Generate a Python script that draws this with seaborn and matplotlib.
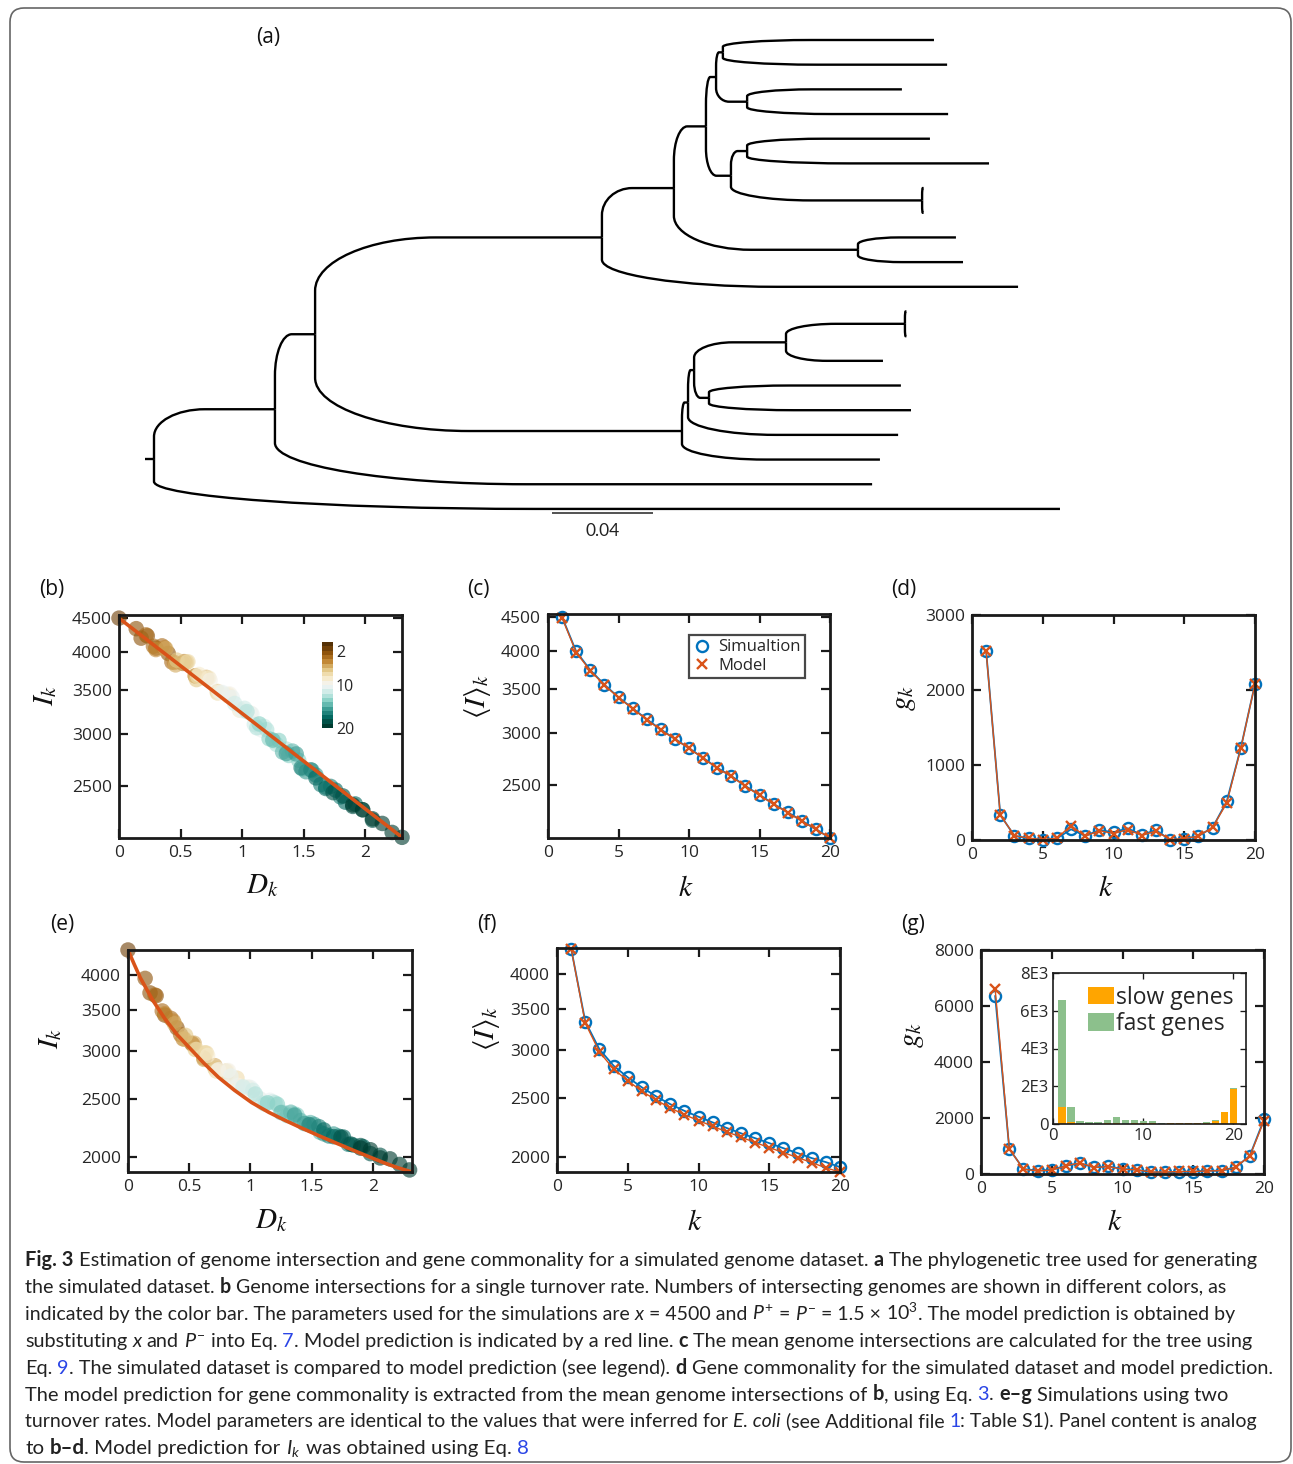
import numpy as np
import pandas as pd
import matplotlib
matplotlib.use("Agg")
import matplotlib.pyplot as plt
import seaborn as sns
from matplotlib.path import Path
from matplotlib.patches import PathPatch, FancyBboxPatch
from matplotlib.lines import Line2D
from matplotlib.colors import Normalize
from matplotlib.cm import ScalarMappable
from matplotlib.transforms import IdentityTransform
import matplotlib.ticker as mticker

# ---------------------------------------------------------------- data
# (a) phylogenetic tree: node, parent, depth from root (substitutions/site)
tree_nodes = ["root", "A", "B", "C", "E", "F", "H", "J", "t1", "t2", "K", "t3", "t4",
              "I", "L", "t5", "t6", "M", "t7", "t8", "G", "t9", "t10", "t11",
              "D", "N", "O", "P", "R", "t12", "t13", "t14", "Q", "t15", "t16",
              "t17", "t18", "t19", "t20"]
tree_parent = [None, "root", "A", "B", "C", "E", "F", "H", "J", "J", "H", "K", "K",
               "F", "I", "L", "L", "I", "M", "M", "E", "G", "G", "C",
               "B", "D", "N", "O", "P", "R", "R", "P", "O", "Q", "Q",
               "N", "D", "A", "root"]
tree_depth = [0.0, 0.0479, 0.0638, 0.1774, 0.2059, 0.2186, 0.2226, 0.2253, 0.3089, 0.3141,
              0.2349, 0.2962, 0.3145, 0.2285, 0.2349, 0.3073, 0.3307, 0.3042, 0.3048, 0.3048,
              0.2788, 0.3176, 0.3204, 0.3422, 0.2091, 0.2115, 0.2139, 0.2503, 0.2974, 0.2980,
              0.2980, 0.2887, 0.2198, 0.2958, 0.2998, 0.2947, 0.2875, 0.2844, 0.3588]
scale_bar_len = 0.04

# (b),(e) genome intersections: number of genomes k, distance D_k, I_k
sc_k = [1] + [2]*5 + [3]*5 + [4]*5 + [5]*5 + [6]*5 + [7]*5 + [8]*5 + [9]*5 + [10]*5 + \
       [11]*5 + [12]*5 + [13]*5 + [14]*5 + [15]*5 + [16]*5 + [17]*5 + [18]*5 + [19]*5 + [20]
sc_D = [0.00,
        0.14, 0.18, 0.23, 0.30, 0.40,
        0.22, 0.28, 0.35, 0.43, 0.52,
        0.30, 0.37, 0.45, 0.53, 0.62,
        0.38, 0.46, 0.54, 0.62, 0.71,
        0.47, 0.55, 0.63, 0.71, 0.80,
        0.56, 0.64, 0.72, 0.80, 0.89,
        0.65, 0.73, 0.81, 0.89, 0.98,
        0.74, 0.82, 0.90, 0.98, 1.07,
        0.84, 0.92, 1.00, 1.08, 1.16,
        0.94, 1.02, 1.10, 1.18, 1.26,
        1.04, 1.12, 1.20, 1.28, 1.36,
        1.14, 1.22, 1.30, 1.38, 1.46,
        1.25, 1.33, 1.41, 1.49, 1.57,
        1.36, 1.44, 1.52, 1.60, 1.68,
        1.48, 1.56, 1.64, 1.72, 1.80,
        1.60, 1.68, 1.76, 1.84, 1.92,
        1.74, 1.82, 1.90, 1.98, 2.06,
        1.90, 1.98, 2.06, 2.14, 2.22,
        2.30]
b_I = [4500,
       4337, 4195, 4229, 4051, 3976,
       4244, 4078, 4083, 3858, 3839,
       4030, 4056, 3852, 3863, 3675,
       4042, 3819, 3850, 3675, 3655,
       3883, 3856, 3627, 3638, 3478,
       3862, 3669, 3643, 3461, 3425,
       3693, 3648, 3466, 3441, 3258,
       3618, 3471, 3448, 3274, 3225,
       3466, 3407, 3253, 3214, 3038,
       3335, 3279, 3099, 3077, 2922,
       3242, 3063, 3043, 2889, 2841,
       3104, 2947, 2929, 2779, 2733,
       2933, 2812, 2822, 2652, 2635,
       2798, 2794, 2625, 2595, 2488,
       2661, 2643, 2509, 2493, 2403,
       2569, 2475, 2461, 2359, 2344,
       2439, 2411, 2324, 2297, 2214,
       2336, 2297, 2225, 2189, 2121,
       2085]
e_I = [4400,
       3949, 3737, 3697, 3435, 3271,
       3707, 3489, 3392, 3188, 3084,
       3452, 3357, 3138, 3070, 2916,
       3322, 3135, 3086, 2902, 2833,
       3180, 3013, 2973, 2805, 2773,
       3013, 2973, 2777, 2734, 2701,
       2945, 2777, 2777, 2636, 2601,
       2790, 2781, 2627, 2613, 2501,
       2723, 2608, 2607, 2495, 2483,
       2614, 2579, 2458, 2470, 2376,
       2543, 2447, 2459, 2365, 2359,
       2459, 2446, 2343, 2348, 2273,
       2370, 2373, 2299, 2281, 2198,
       2347, 2273, 2266, 2185, 2184,
       2263, 2246, 2168, 2166, 2100,
       2218, 2162, 2159, 2094, 2082,
       2158, 2102, 2090, 2027, 2014,
       2070, 2057, 1994, 1987, 1945,
       1905]
b_model_D = [0.0, 0.5, 1.0, 1.5, 2.0, 2.3]
b_model_I = [4500, 3807, 3221, 2725, 2305, 2085]
e_model_D = [0.0, 0.05, 0.10, 0.20, 0.30, 0.40, 0.50, 0.62, 0.74, 0.87, 1.01, 1.15, 1.28,
             1.40, 1.55, 1.70, 1.82, 1.95, 2.09, 2.20, 2.32]
e_model_I = [4400, 4170, 3960, 3640, 3390, 3190, 3036, 2860, 2709, 2580, 2462, 2372, 2302,
             2243, 2174, 2110, 2061, 2010, 1958, 1922, 1890]

# (c),(d),(f),(g) per k
k_vals = list(range(1, 21))
c_sim = [4500, 3990, 3738, 3552, 3398, 3270, 3147, 3036, 2938, 2843, 2748, 2654, 2579, 2490,
         2414, 2338, 2271, 2205, 2141, 2075]
c_model = [4490, 3975, 3730, 3545, 3395, 3265, 3142, 3030, 2935, 2840, 2745, 2650, 2575, 2487,
           2410, 2335, 2268, 2202, 2138, 2075]
d_sim = [2520, 336, 54, 21, 0, 21, 143, 54, 134, 102, 156, 67, 134, 0, 13, 54, 165, 514, 1230, 2082]
d_model = [2515, 330, 60, 25, 5, 25, 192, 50, 125, 85, 140, 60, 120, 5, 20, 50, 170, 490, 1225, 2080]
f_sim = [4400, 3338, 3006, 2825, 2704, 2603, 2516, 2443, 2382, 2329, 2280, 2232, 2188, 2148,
         2108, 2068, 2030, 1992, 1962, 1925]
f_model = [4400, 3318, 2976, 2790, 2670, 2565, 2482, 2408, 2348, 2296, 2247, 2200, 2157, 2113,
           2073, 2034, 1996, 1959, 1920, 1890]
g_sim = [6363, 896, 179, 118, 150, 297, 380, 237, 272, 179, 154, 57, 57, 82, 82, 118, 118, 237, 656, 1950]
g_model = [6603, 900, 170, 110, 140, 290, 400, 230, 265, 170, 150, 70, 70, 90, 90, 110, 120, 250, 640, 1900]
slow_genes = [920, 85, 20, 15, 15, 30, 30, 25, 30, 30, 40, 25, 40, 30, 40, 50, 70, 140, 617, 1862]
fast_genes = [5640, 800, 120, 70, 70, 183, 358, 188, 183, 147, 100, 46, 31, 41, 31, 21, 36, 60, 40, 30]

caption_lines = [
    [("Fig. 3", "b"), (" Estimation of genome intersection and gene commonality for a simulated genome dataset. ", "n"),
     ("a", "b"), (" The phylogenetic tree used for generating", "n")],
    [("the simulated dataset. ", "n"), ("b", "b"),
     (" Genome intersections for a single turnover rate. Numbers of intersecting genomes are shown in different colors, as", "n")],
    [("indicated by the color bar. The parameters used for the simulations are ", "n"), ("x", "i"),
     (" = 4500 and ", "n"), ("$P^{+}$", "m"), (" = ", "n"), ("$P^{-}$", "m"), (" = 1.5 × ", "n"),
     (r"$\mathrm{10}^{3}$", "m"), (". The model prediction is obtained by", "n")],
    [("substituting ", "n"), ("x", "i"), (" and ", "n"), ("$P^{-}$", "m"), (" into Eq. ", "n"), ("7", "l"),
     (". Model prediction is indicated by a red line. ", "n"), ("c", "b"),
     (" The mean genome intersections are calculated for the tree using", "n")],
    [("Eq. ", "n"), ("9", "l"), (". The simulated dataset is compared to model prediction (see legend). ", "n"),
     ("d", "b"), (" Gene commonality for the simulated dataset and model prediction.", "n")],
    [("The model prediction for gene commonality is extracted from the mean genome intersections of ", "n"),
     ("b", "b"), (", using Eq. ", "n"), ("3", "l"), (". ", "n"), ("e–g", "b"), (" Simulations using two", "n")],
    [("turnover rates. Model parameters are identical to the values that were inferred for ", "n"),
     ("E. coli", "i"), (" (see Additional file ", "n"), ("1", "l"), (": Table S1). Panel content is analog", "n")],
    [("to ", "n"), ("b–d", "b"), (". Model prediction for ", "n"), ("$I_k$", "m"),
     (" was obtained using Eq. ", "n"), ("8", "l")],
]
caption_line_ends = [1258, 1226, 1236, 1250, 1275, 1225, 1260, 562]

# ---------------------------------------------------------------- style
sns.set_style("ticks")
plt.rcParams["font.family"] = ["Open Sans", "DejaVu Sans"]
plt.rcParams["mathtext.fontset"] = "custom"
plt.rcParams["mathtext.rm"] = "Lato"
plt.rcParams["mathtext.it"] = "Lato:italic"
plt.rcParams["mathtext.bf"] = "Lato:bold"

BLUE = "#0072BD"
RED = "#D95319"
LINK = "#2a45e6"
CAP_FONT = ["Lato", "DejaVu Sans"]
W, H = 1293, 1464

fig = plt.figure(figsize=(W / 100, H / 100), dpi=100)
fig.patch.set_facecolor("white")


def add_ax(x0, y0, x1, y1):
    return fig.add_axes([x0 / W, 1 - y1 / H, (x1 - x0) / W, (y1 - y0) / H])


def ftext(x, y, s, **kw):
    return fig.text(x / W, 1 - y / H, s, **kw)


def style_ax(ax, lw=2.0, tl=6.5, ls=12.5):
    for sp in ax.spines.values():
        sp.set_visible(True)
        sp.set_linewidth(lw)
        sp.set_color("#1a1a1a")
    ax.tick_params(which="major", direction="in", top=True, right=True, length=tl,
                   width=lw * 0.8, labelsize=ls, labelcolor="#262626", color="#1a1a1a", pad=5)
    ax.tick_params(which="minor", length=0)
    ax.set_xlabel("")
    ax.set_ylabel("")


def log_yticks(ax, ticks):
    ax.set_yscale("log")
    ax.yaxis.set_major_locator(mticker.FixedLocator(ticks))
    ax.yaxis.set_major_formatter(mticker.FixedFormatter([str(t) for t in ticks]))
    ax.yaxis.set_minor_locator(mticker.NullLocator())


def k_xticks(ax):
    ax.set_xlim(0, 20)
    ax.set_xticks([0, 5, 10, 15, 20])
    ax.set_xticklabels(["0", "5", "10", "15", "20"])


# ---------------------------------------------------------------- border
fig.patches.append(FancyBboxPatch((10, 2), 1281, 1454, boxstyle="round,pad=0,rounding_size=14",
                                  transform=IdentityTransform(), fill=False, ec="#666666", lw=1.2))

# ---------------------------------------------------------------- (a) tree
children = {n: [] for n in tree_nodes}
for n, p in zip(tree_nodes, tree_parent):
    if p is not None:
        children[p].append(n)
depth = dict(zip(tree_nodes, tree_depth))
parent = dict(zip(tree_nodes, tree_parent))
ypos = {}
counter = [0]


def layout(n):
    if not children[n]:
        ypos[n] = counter[0]
        counter[0] += 1
    else:
        for c in children[n]:
            layout(c)
        ypos[n] = float(np.mean([ypos[c] for c in children[n]]))


layout("root")

px_per_unit = 2525.0
root_px = 154.0
leaf_px0, leaf_dpx = 40.0, 24.68
axT = add_ax(130, 25, 1080, 545)
axT.set_xlim((130 - root_px) / px_per_unit, (1080 - root_px) / px_per_unit)
axT.set_ylim((545 - leaf_px0) / leaf_dpx, (25 - leaf_px0) / leaf_dpx)
axT.axis("off")

KAPPA = 0.5523
for n in tree_nodes:
    p = parent[n]
    if p is None:
        continue
    px_, py_ = depth[p], ypos[p]
    cx_, cy_ = depth[n], ypos[n]
    dx, dy = cx_ - px_, cy_ - py_
    s = np.sign(dy)
    rx, ry = 0.42 * dx, 0.55 * abs(dy)
    verts = [(px_, py_), (px_, cy_ - s * ry), (px_, cy_ - s * ry * (1 - KAPPA)),
             (px_ + rx * (1 - KAPPA), cy_), (px_ + rx, cy_), (cx_, cy_)]
    codes = [Path.MOVETO, Path.LINETO, Path.CURVE4, Path.CURVE4, Path.CURVE4, Path.LINETO]
    axT.add_patch(PathPatch(Path(verts, codes), fill=False, ec="black", lw=1.7, capstyle="butt"))
axT.plot([-0.0036, 0.0], [ypos["root"], ypos["root"]], color="black", lw=1.7, solid_capstyle="butt")
sb_x0, sb_y = 0.1576, 19.17
axT.plot([sb_x0, sb_x0 + scale_bar_len], [sb_y, sb_y], color="#444444", lw=1.3, solid_capstyle="butt")
axT.text(sb_x0 + scale_bar_len / 2, 19.9, f"{scale_bar_len:g}", ha="center", va="center",
         fontsize=12.5, family=CAP_FONT, color="#222222")
ftext(268, 37, "(a)", ha="center", va="center", fontsize=15, color="#111111")

# ---------------------------------------------------------------- colormap
cmap = plt.get_cmap("BrBG", 20)
norm = Normalize(vmin=0, vmax=20)
sc_df_b = pd.DataFrame({"k": sc_k, "D": sc_D, "I": b_I})
sc_df_e = pd.DataFrame({"k": sc_k, "D": sc_D, "I": e_I})
SC_S, SC_A = 125, 0.62

# ---------------------------------------------------------------- (b)
axb = add_ax(119, 615, 402, 838)
sns.scatterplot(data=sc_df_b, x="D", y="I", hue="k", palette=cmap, hue_norm=norm, s=SC_S,
                alpha=SC_A, linewidth=0, legend=False, ax=axb, clip_on=False)
sns.lineplot(x=b_model_D, y=b_model_I, color=RED, lw=2.6, ax=axb, sort=False, errorbar=None)
log_yticks(axb, [2500, 3000, 3500, 4000, 4500])
axb.set_ylim(2080, 4550)
axb.set_xlim(0, 2.3)
axb.set_xticks([0, 0.5, 1, 1.5, 2])
axb.set_xticklabels(["0", "0.5", "1", "1.5", "2"])
style_ax(axb)

cax = add_ax(322, 642, 333, 728)
cb = fig.colorbar(ScalarMappable(norm=norm, cmap=cmap), cax=cax)
cax.invert_yaxis()
cb.set_ticks([2, 10, 20])
cb.set_ticklabels(["2", "10", "20"])
cb.outline.set_visible(False)
cax.tick_params(length=0, labelsize=11.5, pad=2, labelcolor="#262626")

# ---------------------------------------------------------------- (c)
axc = add_ax(548, 614, 830, 838)
sns.lineplot(x=k_vals, y=c_sim, color=BLUE, lw=1.3, marker="o", markersize=8,
             markerfacecolor="none", markeredgecolor=BLUE, markeredgewidth=1.7,
             ax=axc, sort=False, errorbar=None, clip_on=False)
sns.lineplot(x=k_vals, y=c_model, color=RED, lw=1.0, marker="x", markersize=6.5,
             markeredgecolor=RED, markeredgewidth=1.7, ax=axc, sort=False, errorbar=None, clip_on=False)
log_yticks(axc, [2500, 3000, 3500, 4000, 4500])
axc.set_ylim(2075, 4550)
k_xticks(axc)
style_ax(axc)
handles = [Line2D([], [], ls="none", marker="o", ms=8, mfc="none", mec=BLUE, mew=1.7),
           Line2D([], [], ls="none", marker="x", ms=6.5, mec=RED, mew=1.7)]
leg = axc.legend(handles, ["Simualtion", "Model"], loc="upper left", bbox_to_anchor=(0.50, 0.905),
                 frameon=True, fancybox=False, edgecolor="#1a1a1a", fontsize=12, handlelength=1.0,
                 handletextpad=0.5, borderpad=0.25, labelspacing=0.15, borderaxespad=0)
leg.get_frame().set_linewidth(1.6)

# ---------------------------------------------------------------- (d)
axd = add_ax(972, 615, 1255, 840)
sns.lineplot(x=k_vals, y=d_sim, color=BLUE, lw=1.3, marker="o", markersize=8,
             markerfacecolor="none", markeredgecolor=BLUE, markeredgewidth=1.7,
             ax=axd, sort=False, errorbar=None, clip_on=False)
sns.lineplot(x=k_vals, y=d_model, color=RED, lw=1.0, marker="x", markersize=6.5,
             markeredgecolor=RED, markeredgewidth=1.7, ax=axd, sort=False, errorbar=None, clip_on=False)
axd.set_ylim(0, 3000)
axd.set_yticks([0, 1000, 2000, 3000])
axd.set_yticklabels(["0", "1000", "2000", "3000"])
k_xticks(axd)
style_ax(axd)

# ---------------------------------------------------------------- (e)
axe = add_ax(128, 950, 412, 1172)
sns.scatterplot(data=sc_df_e, x="D", y="I", hue="k", palette=cmap, hue_norm=norm, s=SC_S,
                alpha=SC_A, linewidth=0, legend=False, ax=axe, clip_on=False)
sns.lineplot(x=e_model_D, y=e_model_I, color=RED, lw=2.6, ax=axe, sort=False, errorbar=None)
log_yticks(axe, [2000, 2500, 3000, 3500, 4000])
axe.set_ylim(1890, 4400)
axe.set_xlim(0, 2.32)
axe.set_xticks([0, 0.5, 1, 1.5, 2])
axe.set_xticklabels(["0", "0.5", "1", "1.5", "2"])
style_ax(axe)

# ---------------------------------------------------------------- (f)
axf = add_ax(557, 948, 840, 1172)
sns.lineplot(x=k_vals, y=f_sim, color=BLUE, lw=1.3, marker="o", markersize=8,
             markerfacecolor="none", markeredgecolor=BLUE, markeredgewidth=1.7,
             ax=axf, sort=False, errorbar=None, clip_on=False)
sns.lineplot(x=k_vals, y=f_model, color=RED, lw=1.0, marker="x", markersize=6.5,
             markeredgecolor=RED, markeredgewidth=1.7, ax=axf, sort=False, errorbar=None, clip_on=False)
log_yticks(axf, [2000, 2500, 3000, 3500, 4000])
axf.set_ylim(1890, 4410)
k_xticks(axf)
style_ax(axf)

# ---------------------------------------------------------------- (g)
axg = add_ax(981, 950, 1264, 1174)
sns.lineplot(x=k_vals, y=g_sim, color=BLUE, lw=1.3, marker="o", markersize=8,
             markerfacecolor="none", markeredgecolor=BLUE, markeredgewidth=1.7,
             ax=axg, sort=False, errorbar=None, clip_on=False)
sns.lineplot(x=k_vals, y=g_model, color=RED, lw=1.0, marker="x", markersize=6.5,
             markeredgecolor=RED, markeredgewidth=1.7, ax=axg, sort=False, errorbar=None, clip_on=False)
axg.set_ylim(0, 8000)
axg.set_yticks([0, 2000, 4000, 6000, 8000])
axg.set_yticklabels(["0", "2000", "4000", "6000", "8000"])
k_xticks(axg)
style_ax(axg)

axi = add_ax(1053, 973, 1246, 1124)
axi.bar(k_vals, slow_genes, width=0.8, color="#FFA500", label="slow genes", lw=0)
axi.bar(k_vals, fast_genes, bottom=slow_genes, width=0.8, color="#8CC08C", label="fast genes", lw=0)
axi.set_xlim(0, 21.4)
axi.set_ylim(0, 8000)
axi.set_yticks([0, 2000, 4000, 6000, 8000])
axi.set_yticklabels(["0", "2E3", "4E3", "6E3", "8E3"])
axi.set_xticks([0, 10, 20])
axi.set_xticklabels(["0", "10", "20"])
style_ax(axi, lw=1.2, tl=4, ls=12)
axi.tick_params(pad=3)
axi.legend(loc="upper right", frameon=False, fontsize=16.5, handlelength=1.1, handleheight=0.8,
           handletextpad=0.1, borderaxespad=0.15, labelspacing=0.1)

# ---------------------------------------------------------------- labels
lab = dict(fontsize=21, math_fontfamily="stix", color="#111111", ha="center", va="center")
ftext(46, 695, r"$I_k$", rotation=90, **lab)
ftext(262, 886, r"$D_k$", **lab)
ftext(478, 697, r"$\langle I\rangle_k$", rotation=90, **lab)
ftext(686, 888, r"$k$", **lab)
ftext(903, 698, r"$g_k$", rotation=90, **lab)
ftext(1106, 888, r"$k$", **lab)
ftext(51, 1038, r"$I_k$", rotation=90, **lab)
ftext(271, 1221, r"$D_k$", **lab)
ftext(487, 1029, r"$\langle I\rangle_k$", rotation=90, **lab)
ftext(695, 1222, r"$k$", **lab)
ftext(912, 1035, r"$g_k$", rotation=90, **lab)
ftext(1115, 1222, r"$k$", **lab)

plab = dict(fontsize=15, color="#111111", ha="center", va="center")
for s, x, y in [("(b)", 52, 590), ("(c)", 478, 590), ("(d)", 904, 590),
                ("(e)", 62, 925), ("(f)", 487, 925), ("(g)", 913, 925)]:
    ftext(x, y, s, **plab)

# ---------------------------------------------------------------- caption
renderer = fig.canvas.get_renderer()


def run_props(style, size):
    p = dict(fontsize=size, family=CAP_FONT, color="#222222", va="baseline", ha="left")
    if style == "b":
        p["fontweight"] = "bold"
    if style == "i":
        p["fontstyle"] = "italic"
    if style == "l":
        p["color"] = LINK
    if style == "m":
        p["math_fontfamily"] = "custom"
    return p


def text_w(s, props):
    t = fig.text(0, 0, s, **props)
    w = t.get_window_extent(renderer).width
    t.remove()
    return w


def place_runs(runs, x0, ybase, size, draw=True):
    sp = text_w("a a", run_props("n", size)) - text_w("aa", run_props("n", size))
    x = x0
    for s, st in runs:
        core = s.strip(" ")
        lead = len(s) - len(s.lstrip(" "))
        trail = len(s) - len(s.rstrip(" "))
        x += lead * sp
        if core:
            if draw:
                fig.text(x / W, 1 - ybase / H, core, **run_props(st, size))
            x += text_w(core, run_props(st, size))
        x += trail * sp
    return x - x0


CAP_X0 = 25
base_size = 13.0
sizes = []
for runs, end in zip(caption_lines, caption_line_ends):
    sizes.append(base_size * (end - CAP_X0) / place_runs(runs, CAP_X0, 0, base_size, draw=False))
ref_size = float(np.median(sizes))
for i, runs in enumerate(caption_lines):
    sz = min(max(sizes[i], ref_size * 0.97), ref_size * 1.03)
    # refine so the line never runs past its reference end
    wid = place_runs(runs, CAP_X0, 0, sz, draw=False)
    if CAP_X0 + wid > caption_line_ends[i] + 4:
        sz *= (caption_line_ends[i] + 4 - CAP_X0) / wid
    place_runs(runs, CAP_X0, 1266 + i * 26.9, sz)

fig.savefig("out.png", dpi=100)
